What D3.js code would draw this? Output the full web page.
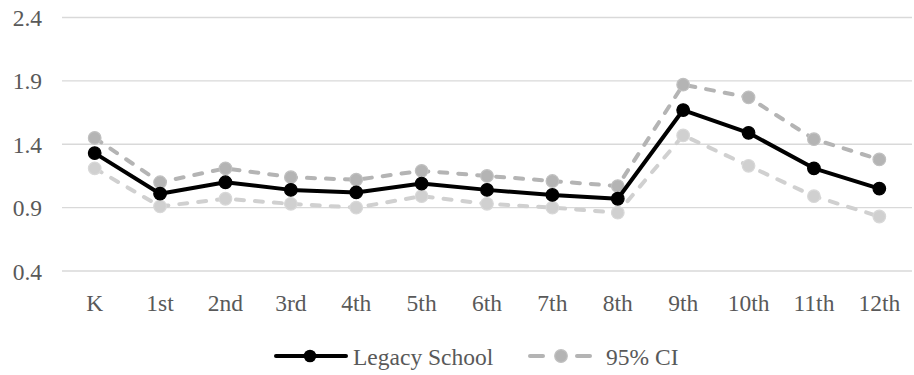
<!DOCTYPE html>
<html>
<head>
<meta charset="utf-8">
<script src="https://cdn.jsdelivr.net/npm/d3@7"></script>
<style>
  html, body { margin: 0; padding: 0; background: #fff; }
  svg { display: block; }
  text { font-family: "Liberation Serif", "Times New Roman", serif; fill: #595959; }
</style>
</head>
<body>
<svg id="chart" width="914" height="375"></svg>
<script>
// Grade levels along the x axis
const grades = ["K", "1st", "2nd", "3rd", "4th", "5th", "6th", "7th", "8th", "9th", "10th", "11th", "12th"];
// School estimate per grade
const legacySchool = [1.33, 1.01, 1.10, 1.04, 1.02, 1.09, 1.04, 1.00, 0.97, 1.67, 1.49, 1.21, 1.05];
// Upper and lower bounds of the 95% confidence interval
const ciUpper = [1.45, 1.10, 1.21, 1.14, 1.12, 1.19, 1.15, 1.11, 1.07, 1.87, 1.77, 1.44, 1.28];
const ciLower = [1.21, 0.91, 0.97, 0.93, 0.90, 0.99, 0.93, 0.90, 0.86, 1.47, 1.23, 0.99, 0.83];
// Y axis tick values
const yTicks = [0.4, 0.9, 1.4, 1.9, 2.4];

const svg = d3.select("#chart");
const W = 914, H = 375;
const margin = { left: 62, right: 2, top: 17.5, bottom: 104 };
const fontSize = 23.5;

const x = d3.scaleBand().domain(grades).range([margin.left, W - margin.right]);
const y = d3.scaleLinear().domain([0.4, 2.4]).range([H - margin.bottom, margin.top]);

// Horizontal gridlines
svg.append("g")
  .selectAll("line")
  .data(yTicks)
  .join("line")
  .attr("x1", margin.left).attr("x2", W - margin.right)
  .attr("y1", d => y(d)).attr("y2", d => y(d))
  .attr("stroke", "#d9d9d9").attr("stroke-width", 1.3);

// Y axis labels
const yAxis = d3.axisLeft(y).tickValues(yTicks).tickFormat(d3.format(".1f")).tickSize(0).tickPadding(20);
const gy = svg.append("g").attr("transform", `translate(${margin.left},0)`).call(yAxis);
gy.select(".domain").remove();
gy.selectAll("text").attr("font-size", fontSize).attr("dy", "0.34em");

// X axis labels
const xAxis = d3.axisBottom(x).tickSize(0).tickPadding(0);
const gx = svg.append("g").attr("transform", `translate(0,${y(0.4) + 40})`).call(xAxis);
gx.select(".domain").remove();
gx.selectAll("text").attr("font-size", fontSize).attr("dy", 0);

const cx = d => x(d) + x.bandwidth() / 2;
const line = d3.line().x(d => cx(d.g)).y(d => y(d.v));

function drawSeries(values, color, markerStroke, dash) {
  const pts = grades.map((g, i) => ({ g, v: values[i] }));
  svg.append("path")
    .datum(pts)
    .attr("d", line)
    .attr("fill", "none")
    .attr("stroke", color)
    .attr("stroke-width", 4)
    .attr("stroke-linejoin", "round")
    .attr("stroke-linecap", dash ? "round" : "butt")
    .attr("stroke-dasharray", dash);
  svg.append("g")
    .selectAll("circle")
    .data(pts)
    .join("circle")
    .attr("cx", d => cx(d.g))
    .attr("cy", d => y(d.v))
    .attr("r", 6.3)
    .attr("fill", color)
    .attr("stroke", markerStroke)
    .attr("stroke-width", 1.2);
}

drawSeries(ciLower, "#d0d0d0", "#d8d8d8", "8,11");
drawSeries(ciUpper, "#b4b4b4", "#c0c0c0", "8,11");
drawSeries(legacySchool, "#000000", "#000000", null);

// Legend
const ly = 356;
const leg = svg.append("g");
leg.append("line").attr("x1", 276).attr("x2", 346).attr("y1", ly).attr("y2", ly)
  .attr("stroke", "#000").attr("stroke-width", 4).attr("stroke-linecap", "round");
leg.append("circle").attr("cx", 310).attr("cy", ly).attr("r", 6.3).attr("fill", "#000");
leg.append("text").attr("x", 353).attr("y", ly + 9).attr("font-size", fontSize).text("Legacy School");

[[530, 543], [577, 590]].forEach(([a, b]) => {
  leg.append("line").attr("x1", a).attr("x2", b).attr("y1", ly).attr("y2", ly)
    .attr("stroke", "#b4b4b4").attr("stroke-width", 4).attr("stroke-linecap", "round");
});
leg.append("circle").attr("cx", 561).attr("cy", ly).attr("r", 6.3)
  .attr("fill", "#b4b4b4").attr("stroke", "#c0c0c0").attr("stroke-width", 1.2);
leg.append("text").attr("x", 606).attr("y", ly + 9).attr("font-size", fontSize).text("95% CI");
</script>
</body>
</html>
